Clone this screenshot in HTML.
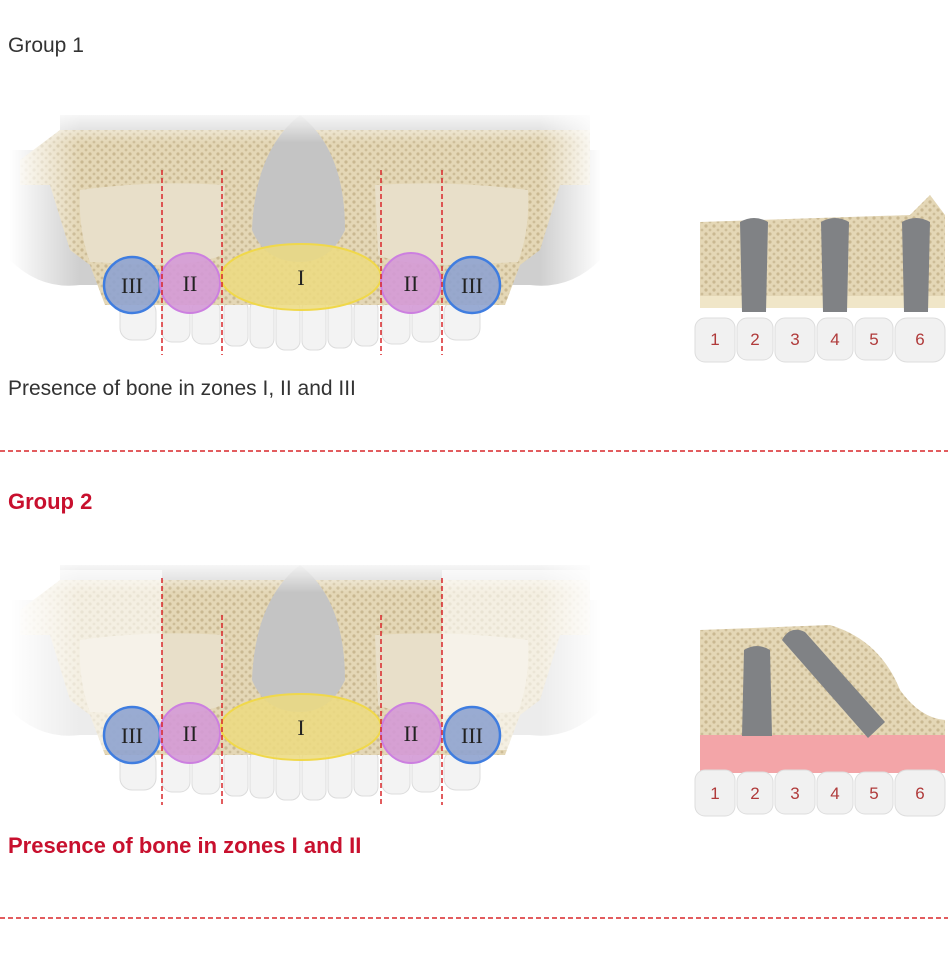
<!DOCTYPE html>
<html><head><style>
body{margin:0;background:#fff;width:948px;height:948px;overflow:hidden;font-family:"Liberation Sans",sans-serif}
</style></head><body>
<svg width="948" height="948" viewBox="0 0 948 948" xmlns="http://www.w3.org/2000/svg">
<defs>
<pattern id="bone" width="8" height="8" patternUnits="userSpaceOnUse">
<rect width="8" height="8" fill="#e4d7b6"/>
<circle cx="2" cy="2" r="1.6" fill="#c9b891"/><circle cx="6" cy="6" r="1.4" fill="#cdbd98"/>
</pattern>
<linearGradient id="fadeL" x1="0" x2="1"><stop offset="0" stop-color="#fff"/><stop offset="1" stop-color="#fff" stop-opacity="0"/></linearGradient>
<linearGradient id="fadeR" x1="1" x2="0"><stop offset="0" stop-color="#fff"/><stop offset="1" stop-color="#fff" stop-opacity="0"/></linearGradient>
<linearGradient id="fadeT" x1="0" y1="0" x2="0" y2="1"><stop offset="0" stop-color="#fff"/><stop offset="1" stop-color="#fff" stop-opacity="0"/></linearGradient>
<g id="skull">
<path d="M10 150 L600 150 L600 260 Q570 290 530 285 L80 285 Q40 290 10 260Z" fill="#cfcfcf"/>
<rect x="60" y="115" width="530" height="60" fill="#d3d3d3"/>
<path d="M60 130 L590 130 L590 185 L560 185 L540 250 L520 265 L505 305 L105 305 L90 265 L70 250 L50 185 L20 185 L20 160 Z" fill="url(#bone)"/>
<path d="M80 190 Q150 180 225 185 L222 255 Q200 265 150 265 L90 262 Q78 230 80 190Z" fill="#e8dfc9"/>
<path d="M375 185 Q450 180 528 190 Q530 230 518 262 L460 265 Q400 265 378 255Z" fill="#e8dfc9"/>
<path d="M300 115 Q345 150 345 230 Q330 262 300 262 Q265 262 252 230 Q255 150 300 115Z" fill="#c4c4c4"/>
<rect x="10" y="115" width="70" height="180" fill="url(#fadeL)"/>
<rect x="540" y="115" width="62" height="180" fill="url(#fadeR)"/>
<rect x="10" y="108" width="590" height="35" fill="url(#fadeT)"/>
<g fill="#f3f3f3" stroke="#dcdcdc">
<rect x="120" y="300" width="36" height="40" rx="12"/><rect x="162" y="300" width="28" height="42" rx="10"/><rect x="192" y="300" width="28" height="44" rx="10"/>
<rect x="224" y="300" width="24" height="46" rx="9"/><rect x="250" y="300" width="24" height="48" rx="9"/><rect x="276" y="300" width="24" height="50" rx="9"/><rect x="302" y="300" width="24" height="50" rx="9"/><rect x="328" y="300" width="24" height="48" rx="9"/><rect x="354" y="300" width="24" height="46" rx="9"/>
<rect x="382" y="300" width="28" height="44" rx="10"/><rect x="412" y="300" width="28" height="42" rx="10"/><rect x="444" y="300" width="36" height="40" rx="12"/>
</g>
<path d="M105 265 L505 265 L505 305 L105 305Z" fill="url(#bone)"/>
</g>
<g id="zones">
<circle cx="132" cy="285" r="28" fill="#8fa3cf" fill-opacity=".9" stroke="#3f7de0" stroke-width="2.5"/>
<circle cx="190" cy="283" r="30" fill="#d49ad6" fill-opacity=".9" stroke="#cc7fe0" stroke-width="2"/>
<ellipse cx="301" cy="277" rx="80" ry="33" fill="#ecdb80" fill-opacity=".85" stroke="#f0d84a" stroke-width="2"/>
<circle cx="411" cy="283" r="30" fill="#d49ad6" fill-opacity=".9" stroke="#cc7fe0" stroke-width="2"/>
<circle cx="472" cy="285" r="28" fill="#8fa3cf" fill-opacity=".9" stroke="#3f7de0" stroke-width="2.5"/>
<g font-family="Liberation Serif,serif" font-size="22" fill="#222" text-anchor="middle">
<text x="132" y="293">III</text><text x="190" y="291">II</text><text x="301" y="285">I</text><text x="411" y="291">II</text><text x="472" y="293">III</text>
</g>
</g>
</defs>

<text x="8" y="52" font-size="21" fill="#333">Group 1</text>
<use href="#skull"/>
<use href="#zones"/>
<g stroke="#d9262a" stroke-width="1.5" stroke-dasharray="5,3">
<line x1="162" y1="170" x2="162" y2="355"/><line x1="222" y1="170" x2="222" y2="355"/><line x1="381" y1="170" x2="381" y2="355"/><line x1="442" y1="170" x2="442" y2="355"/>
</g>
<text x="8" y="395" font-size="21" fill="#333">Presence of bone in zones I, II and III</text>
<line x1="0" y1="451" x2="948" y2="451" stroke="#d9262a" stroke-width="1.5" stroke-dasharray="5,3"/>
<text x="8" y="509" font-size="22" font-weight="bold" fill="#c8102e">Group 2</text>

<use href="#skull" transform="translate(0,450)"/>
<rect x="0" y="570" width="162" height="180" fill="#fff" fill-opacity=".6"/>
<rect x="442" y="570" width="200" height="180" fill="#fff" fill-opacity=".6"/>
<use href="#zones" transform="translate(0,450)"/>
<g stroke="#d9262a" stroke-width="1.5" stroke-dasharray="5,3">
<line x1="162" y1="578" x2="162" y2="805"/><line x1="222" y1="615" x2="222" y2="805"/><line x1="381" y1="615" x2="381" y2="805"/><line x1="442" y1="578" x2="442" y2="805"/>
</g>
<text x="8" y="853" font-size="22" font-weight="bold" fill="#c8102e">Presence of bone in zones I and II</text>
<line x1="0" y1="918" x2="948" y2="918" stroke="#d9262a" stroke-width="1.5" stroke-dasharray="5,3"/>

<!-- right block 1 -->
<path d="M700 222 L910 215 L930 195 L945 215 L945 308 L700 308Z" fill="url(#bone)"/>
<rect x="700" y="296" width="245" height="12" fill="#f0e6c8"/>
<g fill="#808285">
<path d="M740 222 Q754 214 768 222 L766 312 L742 312Z"/>
<path d="M821 222 Q835 214 849 222 L847 312 L823 312Z"/>
<path d="M902 222 Q916 214 930 222 L928 312 L904 312Z"/>
</g>
<g fill="#f1f1f1" stroke="#ddd">
<rect x="695" y="318" width="40" height="44" rx="10"/><rect x="737" y="318" width="36" height="42" rx="10"/><rect x="775" y="318" width="40" height="44" rx="10"/><rect x="817" y="318" width="36" height="42" rx="10"/><rect x="855" y="318" width="38" height="42" rx="10"/><rect x="895" y="318" width="50" height="44" rx="12"/>
</g>
<g font-size="17" fill="#b03a3a" text-anchor="middle">
<text x="715" y="345">1</text><text x="755" y="345">2</text><text x="795" y="345">3</text><text x="835" y="345">4</text><text x="874" y="345">5</text><text x="920" y="345">6</text>
</g>

<!-- right block 2 -->
<path d="M700 630 L830 625 Q880 640 900 690 Q920 718 945 720 L945 735 L700 735Z" fill="url(#bone)"/>
<rect x="700" y="735" width="245" height="38" fill="#f3a5a8"/>
<g fill="#808285">
<path d="M744 650 Q757 642 770 650 L772 736 L742 736Z"/>
<path d="M782 640 Q790 625 805 632 L885 722 L868 738 Z"/>
</g>
<g fill="#f1f1f1" stroke="#ddd">
<rect x="695" y="770" width="40" height="46" rx="10"/><rect x="737" y="772" width="36" height="42" rx="10"/><rect x="775" y="770" width="40" height="44" rx="10"/><rect x="817" y="772" width="36" height="42" rx="10"/><rect x="855" y="772" width="38" height="42" rx="10"/><rect x="895" y="770" width="50" height="46" rx="12"/>
</g>
<g font-size="17" fill="#b03a3a" text-anchor="middle">
<text x="715" y="799">1</text><text x="755" y="799">2</text><text x="795" y="799">3</text><text x="835" y="799">4</text><text x="874" y="799">5</text><text x="920" y="799">6</text>
</g>
</svg>
</body></html>
